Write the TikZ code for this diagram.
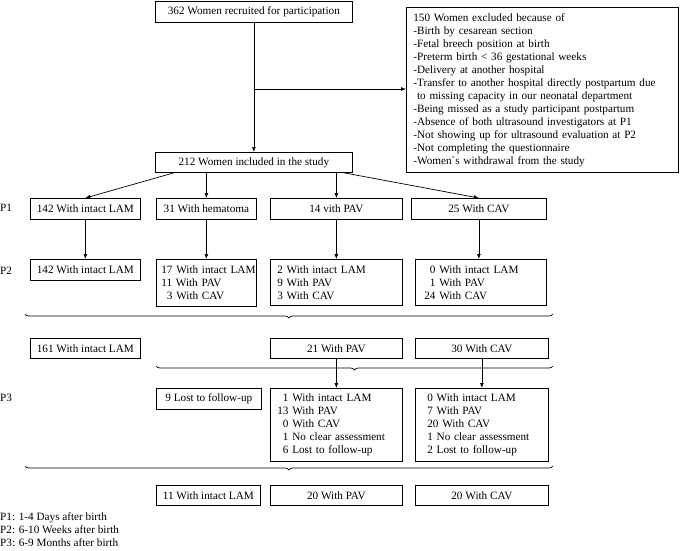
\documentclass[tikz,border=0pt]{standalone}
\usepackage{fontspec}
\setmainfont{Liberation Serif}
\usetikzlibrary{arrows.meta,decorations.pathreplacing}

\begin{document}
\begin{tikzpicture}[x=1pt,y=-1pt,
  every node/.style={font=\fontsize{11.2}{13}\selectfont},
  box/.style={draw, line width=0.7pt, inner sep=0pt, anchor=north west},
  multibox/.style={box, align=left, inner xsep=7pt},
  arr/.style={line width=0.7pt, -{Latex[length=5pt,width=4pt]}},
  brc/.style={line width=0.7pt, decorate, decoration={brace, mirror, amplitude=4pt}}]

\useasboundingbox (0,0) rectangle (681,550);

% recruitment
\node[box, minimum width=197pt, minimum height=21pt] (recruit) at (155,1) {362 Women recruited for participation};
\node[multibox, text width=258pt, minimum height=165pt] (excl) at (406,7) {150 Women excluded because of\\
-Birth by cesarean section\\
-Fetal breech position at birth\\
-Preterm birth < 36 gestational weeks\\
-Delivery at another hospital\\
-Transfer to another hospital directly postpartum due\\
\phantom{-}to missing capacity in our neonatal department\\
-Being missed as a study participant postpartum\\
-Absence of both ultrasound investigators at P1\\
-Not showing up for ultrasound evaluation at P2\\
-Not completing the questionnaire\\
-Women\textasciigrave s withdrawal from the study};
\node[box, minimum width=197pt, minimum height=20pt] (incl) at (155,152) {212 Women included in the study};

\coordinate (split) at (253.5,89);

% time point labels
\node[anchor=west, inner sep=0pt] (lbla) at (0,208) {P1};
\node[anchor=west, inner sep=0pt] (lblb) at (0,271) {P2};
\node[anchor=west, inner sep=0pt] (lblc) at (0,398) {P3};

% P1
\node[box, minimum width=110pt, minimum height=21pt] (pa1) at (30,198) {142 With intact LAM};
\node[box, minimum width=100pt, minimum height=21pt] (pa2) at (156,198) {31 With hematoma};
\node[box, minimum width=132pt, minimum height=21pt] (pa3) at (270,198) {14 vith PAV};
\node[box, minimum width=135pt, minimum height=21pt] (pa4) at (411,198) {25 With CAV};

% P2
\node[box, minimum width=110pt, minimum height=21pt] (pb1) at (30,259) {142 With intact LAM};
\node[multibox, inner xsep=5pt, text width=90pt, minimum height=47pt] (pb2) at (156,259) {\mbox{17 With intact LAM}\\11 With PAV\\\phantom{0}3 With CAV};
\node[multibox, text width=118pt, minimum height=46pt] (pb3) at (270,259) {2 With intact LAM\\9 With PAV\\3 With CAV};
\node[multibox, inner xsep=9pt, text width=113pt, minimum height=46pt] (pb4) at (415,259) {\phantom{0}0 With intact LAM\\\phantom{0}1 With PAV\\24 With CAV};

% after P2
\node[box, minimum width=110pt, minimum height=20pt] (sa1) at (30,338) {161 With intact LAM};
\node[box, minimum width=132pt, minimum height=20pt] (sa3) at (270,338) {21 With PAV};
\node[box, minimum width=133pt, minimum height=20pt] (sa4) at (415,338) {30 With CAV};

% P3
\node[box, minimum width=105pt, minimum height=21pt] (pc2) at (156,388) {9 Lost to follow-up};
\node[multibox, text width=118pt, minimum height=73pt] (pc3) at (270,388) {\phantom{0}1 With intact LAM\\13 With PAV\\\phantom{0}0 With CAV\\\phantom{0}1 No clear assessment\\\phantom{0}6 Lost to follow-up};
\node[multibox, inner xsep=12pt, text width=109pt, minimum height=73pt] (pc4) at (415,388) {0 With intact LAM\\7 With PAV\\20 With CAV\\1 No clear assessment\\2 Lost to follow-up};

% final
\node[box, minimum width=104pt, minimum height=20pt] (fa2) at (156,485) {11 With intact LAM};
\node[box, minimum width=132pt, minimum height=20pt] (fa3) at (270,485) {20 With PAV};
\node[box, minimum width=133pt, minimum height=20pt] (fa4) at (415,485) {20 With CAV};

% legend
\node[anchor=north west, inner sep=0pt, align=left] (legend) at (0,512) {P1: 1-4 Days after birth\\P2: 6-10 Weeks after birth\\P3: 6-9 Months after birth};

% connections
\draw[arr] (recruit) -- (incl);
\draw[arr] (split) -- (split -| excl.west);

\draw[arr] ([xshift=-79.5pt]incl.south) -- (pa1.north);
\draw[arr] (pa2.north |- incl.south) -- (pa2.north);
\draw[arr] (pa3.north |- incl.south) -- (pa3.north);
\draw[arr] ([xshift=89.5pt]incl.south) -- (pa4.north);

\draw[arr] (pa1) -- (pb1);
\draw[arr] (pa2) -- (pb2);
\draw[arr] (pa3) -- (pb3);
\draw[arr] (pa4.south) -- (pa4.south |- pb4.north);

\draw[arr] (sa3) -- (pc3);
\draw[arr] (sa4) -- (pc4);

% braces
\draw[brc] (25,314) -- (553,314);
\draw[brc] (156,366) -- (553,366);
\draw[brc] (25,466) -- (553,466);
\end{tikzpicture}
\end{document}
